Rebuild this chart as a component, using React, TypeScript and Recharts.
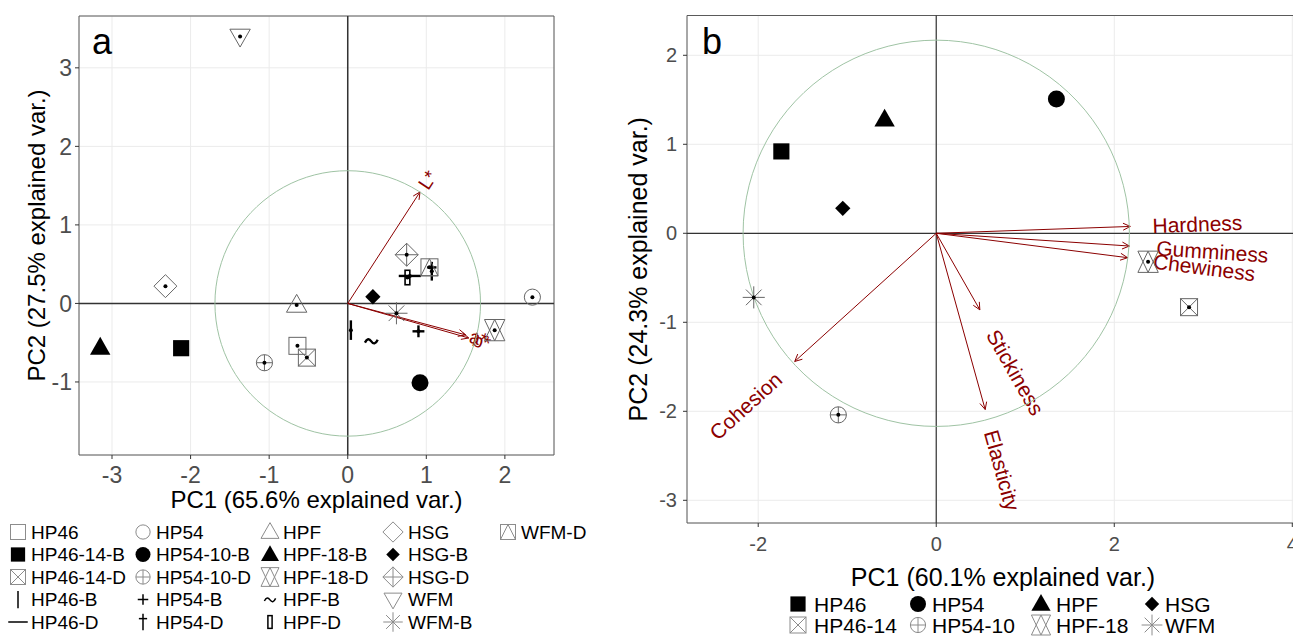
import React from 'react';
import { ScatterChart, Scatter, XAxis, YAxis, CartesianGrid, ReferenceLine, ReferenceArea } from 'recharts';

const FONT = '"Liberation Sans", Arial, Helvetica, sans-serif';
const DARKRED = '#8B0000';
const CIRCLE = '#9fc3a4';

// ---------- panel a : colour (L*, a*, b*) ----------
const samplesA = [
  'HP46', 'HP46-14-B', 'HP46-14-D', 'HP46-B', 'HP46-D',
  'HP54', 'HP54-10-B', 'HP54-10-D', 'HP54-B', 'HP54-D',
  'HPF', 'HPF-18-B', 'HPF-18-D', 'HPF-B', 'HPF-D',
  'HSG', 'HSG-B', 'HSG-D', 'WFM', 'WFM-B',
  'WFM-D',
];
const pc1A = [-0.64, -2.12, -0.52, 0.04, 0.79, 2.35, 0.92, -1.06, 0.9, 1.07, -0.65, -3.15, 1.87, 0.3, 0.76, -2.32, 0.32, 0.75, -1.37, 0.62, 1.04];
const pc2A = [-0.54, -0.57, -0.69, -0.34, 0.35, 0.08, -1.01, -0.755, -0.355, 0.41, -0.02, -0.56, -0.34, -0.48, 0.33, 0.22, 0.085, 0.62, 3.4, -0.125, 0.46];
const varsA = ['L*', 'a*', 'b*'];
const loadXA = [0.92, 1.5, 1.54];
const loadYA = [1.42, -0.4, -0.44];
const radiusA = 1.69;
const xTicksA = [-3, -2, -1, 0, 1, 2];
const yTicksA = [-1, 0, 1, 2, 3];
const xDomainA: [number, number] = [-3.42, 2.625];
const yDomainA: [number, number] = [-1.93, 3.66];

// ---------- panel b : texture ----------
const samplesB = ['HP46', 'HP46-14', 'HP54', 'HP54-10', 'HPF', 'HPF-18', 'HSG', 'WFM'];
const pc1B = [-1.74, 2.84, 1.35, -1.1, -0.58, 2.38, -1.05, -2.05];
const pc2B = [0.92, -0.83, 1.51, -2.04, 1.28, -0.32, 0.28, -0.72];
const varsB = ['Hardness', 'Gumminess', 'Chewiness', 'Stickiness', 'Elasticity', 'Cohesion'];
const loadXB = [2.18, 2.17, 2.15, 0.49, 0.55, -1.59];
const loadYB = [0.077, -0.143, -0.274, -0.86, -1.98, -1.44];
const radiusB = 2.17;
const xTicksB = [-2, 0, 2, 4];
const yTicksB = [-3, -2, -1, 0, 1, 2];
const xDomainB: [number, number] = [-2.8, 4.3];
const yDomainB: [number, number] = [-3.255, 2.447];

type Kind =
  | 'sqOpen' | 'sqFill' | 'sqX' | 'sqTri' | 'vbar' | 'hbar'
  | 'circOpen' | 'circFill' | 'circPlus' | 'plus' | 'dagger'
  | 'triOpen' | 'triFill' | 'star6' | 'tilde' | 'rect'
  | 'diaOpen' | 'diaFill' | 'diaPlus' | 'triDown' | 'aster';

const SHAPE_A: Record<string, Kind> = {
  'HP46': 'sqOpen', 'HP46-14-B': 'sqFill', 'HP46-14-D': 'sqX', 'HP46-B': 'vbar', 'HP46-D': 'hbar',
  'HP54': 'circOpen', 'HP54-10-B': 'circFill', 'HP54-10-D': 'circPlus', 'HP54-B': 'plus', 'HP54-D': 'dagger',
  'HPF': 'triOpen', 'HPF-18-B': 'triFill', 'HPF-18-D': 'star6', 'HPF-B': 'tilde', 'HPF-D': 'rect',
  'HSG': 'diaOpen', 'HSG-B': 'diaFill', 'HSG-D': 'diaPlus', 'WFM': 'triDown', 'WFM-B': 'aster', 'WFM-D': 'sqTri',
};
const SHAPE_B: Record<string, Kind> = {
  'HP46': 'sqFill', 'HP46-14': 'sqX', 'HP54': 'circFill', 'HP54-10': 'circPlus',
  'HPF': 'triFill', 'HPF-18': 'star6', 'HSG': 'diaFill', 'WFM': 'aster',
};
const FILLED: Kind[] = ['sqFill', 'circFill', 'triFill', 'diaFill', 'tilde'];

// correlation circle, traced like ggbiplot does (100 steps round the origin)
const ring = (r: number) =>
  Array.from({ length: 101 }, (_, i) => ({
    x: r * Math.cos((2 * Math.PI * i) / 100),
    y: r * Math.sin((2 * Math.PI * i) / 100),
  }));

function Glyph({ kind, x, y, s, grey, bold, dot }: { kind: Kind; x: number; y: number; s: number; grey: string; bold: number; dot?: boolean }) {
  const thin = { fill: 'none', stroke: grey, strokeWidth: 1 };
  const ink = { fill: 'none', stroke: '#000', strokeWidth: bold };
  const solid = { fill: '#000', stroke: 'none' };
  const sq = (st: any, k = 'sq', f = 1) => <rect key={k} x={x - s * f} y={y - s * f} width={2 * s * f} height={2 * s * f} {...st} />;
  const tri = (dir: number, h: number, w: number, lo: number, st: any, k: string) => (
    <polygon key={k} points={`${x},${y - dir * h} ${x - w},${y + dir * lo} ${x + w},${y + dir * lo}`} {...st} />
  );
  const dia = (r: number, st: any) => <polygon key="dia" points={`${x},${y - r} ${x + r},${y} ${x},${y + r} ${x - r},${y}`} {...st} />;
  const seg = (x1: number, y1: number, x2: number, y2: number, st: any, k: string) => <line key={k} x1={x1} y1={y1} x2={x2} y2={y2} {...st} />;
  const el: React.ReactNode[] = [];
  switch (kind) {
    case 'sqOpen': el.push(sq(thin)); break;
    case 'sqFill': el.push(sq(solid, 'sq', 0.95)); break;
    case 'sqX': el.push(sq(thin), <path key="x" d={`M${x - s},${y - s}L${x + s},${y + s}M${x + s},${y - s}L${x - s},${y + s}`} {...thin} />); break;
    case 'sqTri': el.push(sq(thin), tri(1, s, s, s, thin, 't')); break;
    case 'circOpen': el.push(<circle key="c" cx={x} cy={y} r={s * 0.95} {...thin} />); break;
    case 'circFill': el.push(<circle key="c" cx={x} cy={y} r={s} {...solid} />); break;
    case 'circPlus': {
      const r = s * 0.95;
      el.push(<circle key="c" cx={x} cy={y} r={r} {...thin} />, seg(x - r, y, x + r, y, thin, 'h'), seg(x, y - r, x, y + r, thin, 'v'));
      break;
    }
    case 'triOpen': el.push(tri(1, 1.25 * s, 1.2 * s, 0.85 * s, thin, 't')); break;
    case 'triFill': el.push(tri(1, 1.25 * s, 1.2 * s, 0.85 * s, solid, 't')); break;
    case 'triDown': el.push(tri(-1, 1.25 * s, 1.2 * s, 0.85 * s, thin, 't')); break;
    case 'star6': el.push(tri(1, 1.25 * s, 1.2 * s, 1.25 * s, thin, 'u'), tri(-1, 1.25 * s, 1.2 * s, 1.25 * s, thin, 'd')); break;
    case 'diaOpen': el.push(dia(1.35 * s, thin)); break;
    case 'diaFill': el.push(dia(0.9 * s, solid)); break;
    case 'diaPlus': {
      const r = 1.35 * s;
      el.push(dia(r, thin), seg(x - r, y, x + r, y, thin, 'h'), seg(x, y - r, x, y + r, thin, 'v'));
      break;
    }
    case 'aster': {
      const r = 1.3 * s, d = r * 0.707;
      el.push(seg(x - r, y, x + r, y, thin, 'h'), seg(x, y - r, x, y + r, thin, 'v'), seg(x - d, y - d, x + d, y + d, thin, 'd1'), seg(x - d, y + d, x + d, y - d, thin, 'd2'));
      break;
    }
    case 'plus': el.push(seg(x - 0.7 * s, y, x + 0.7 * s, y, ink, 'h'), seg(x, y - 0.7 * s, x, y + 0.7 * s, ink, 'v')); break;
    case 'vbar': el.push(seg(x, y - 1.15 * s, x, y + 1.15 * s, ink, 'v')); break;
    case 'hbar': el.push(seg(x - 1.3 * s, y, x + 1.3 * s, y, ink, 'h')); break;
    case 'dagger': el.push(seg(x, y - 1.1 * s, x, y + 1.1 * s, ink, 'v'), seg(x - 0.55 * s, y - 0.45 * s, x + 0.55 * s, y - 0.45 * s, ink, 'h')); break;
    case 'tilde':
      el.push(<path key="t" d={`M${x - 0.75 * s},${y + 1.5} c${0.25 * s},${-0.5 * s} ${0.5 * s},${-0.5 * s} ${0.75 * s},${-0.15 * s} s${0.5 * s},${0.35 * s} ${0.75 * s},${-0.2 * s}`} {...ink} />);
      break;
    case 'rect': el.push(<rect key="r" x={x - 0.28 * s} y={y - 0.85 * s} width={0.56 * s} height={1.7 * s} fill="none" stroke="#000" strokeWidth={Math.min(bold, 1.6)} />); break;
  }
  return (
    <g>
      {el}
      {dot && !FILLED.includes(kind) && <circle cx={x} cy={y} r={2} fill="#000" />}
    </g>
  );
}

// rough Arial advance widths, enough for ggbiplot's hjust = -0.25 gap
function textW(str: string, fs: number) {
  let w = 0;
  for (const ch of str) {
    if ('il'.includes(ch)) w += 0.222;
    else if ('tfr'.includes(ch)) w += 0.3;
    else if (ch === '*') w += 0.389;
    else if ('mw'.includes(ch)) w += 0.78;
    else if (ch >= 'A' && ch <= 'Z') w += 0.7;
    else w += 0.54;
  }
  return w * fs;
}

function VarArrow({ x1, y1, x2, y2, label, fs }: any) {
  const a = Math.atan2(y2 - y1, x2 - x1);
  const head = 8;
  const sp = Math.PI / 7;
  const h1 = `${x2 - head * Math.cos(a - sp)},${y2 - head * Math.sin(a - sp)}`;
  const h2 = `${x2 - head * Math.cos(a + sp)},${y2 - head * Math.sin(a + sp)}`;
  const rot = (Math.atan((y2 - y1) / (x2 - x1)) * 180) / Math.PI;
  const out = x2 >= x1;
  const gap = 0.25 * textW(label, fs);
  return (
    <g>
      <line x1={x1} y1={y1} x2={x2} y2={y2} stroke={DARKRED} strokeWidth={1} />
      <polyline points={`${h1} ${x2},${y2} ${h2}`} fill="none" stroke={DARKRED} strokeWidth={1} />
      <text
        transform={`translate(${x2},${y2}) rotate(${rot})`}
        x={out ? gap : -gap}
        textAnchor={out ? 'start' : 'end'}
        dominantBaseline="central"
        fontSize={fs}
        fill={DARKRED}
      >
        {label}
      </text>
    </g>
  );
}

type PanelProps = {
  width: number; height: number; margin: { top: number; right: number; bottom: number; left: number };
  yAxisWidth: number; xAxisHeight: number;
  xDomain: [number, number]; yDomain: [number, number]; xTicks: number[]; yTicks: number[];
  tickFs: number; tickMarginX: number; tickMarginY: number; titleFs: number;
  xTitle: string; yTitle: string; xTitleDrop: number; yTitleX: number;
  points: { name: string; x: number; y: number }[]; shapeOf: Record<string, Kind>;
  radius: number; vars: string[]; loadX: number[]; loadY: number[]; varFs: number; zeroWidth: number;
};

function Panel(p: PanelProps) {
  const circle = ring(p.radius);
  const plotH = p.height - p.margin.top - p.margin.bottom - p.xAxisHeight;
  return (
    <ScatterChart width={p.width} height={p.height} margin={p.margin}>
      <CartesianGrid stroke="#ebebeb" strokeWidth={1} />
      <XAxis
        type="number" dataKey="x" domain={p.xDomain} ticks={p.xTicks} interval={0} allowDataOverflow
        axisLine={false} tickLine={{ stroke: '#333' }} tickSize={4} tickMargin={p.tickMarginX}
        height={p.xAxisHeight} tick={{ fill: '#4d4d4d', fontSize: p.tickFs }}
        label={(lp: any) => {
          const vb = lp.viewBox ?? { x: p.yAxisWidth, y: p.margin.top + plotH, width: p.width - p.yAxisWidth - p.margin.right, height: p.xAxisHeight };
          return (
            <text x={vb.x + vb.width / 2} y={vb.y + vb.height - p.xTitleDrop} textAnchor="middle" fontSize={p.titleFs} fill="#000">
              {p.xTitle}
            </text>
          );
        }}
      />
      <YAxis
        type="number" dataKey="y" domain={p.yDomain} ticks={p.yTicks} interval={0} allowDataOverflow
        axisLine={false} tickLine={{ stroke: '#333' }} tickSize={4} tickMargin={p.tickMarginY}
        width={p.yAxisWidth} tick={{ fill: '#4d4d4d', fontSize: p.tickFs }}
        label={(lp: any) => {
          const vb = lp.viewBox ?? { x: 0, y: p.margin.top, width: p.yAxisWidth, height: plotH };
          const cx = vb.x + p.yTitleX;
          const cy = vb.y + vb.height / 2;
          return (
            <text x={cx} y={cy} transform={`rotate(-90 ${cx} ${cy})`} textAnchor="middle" dominantBaseline="central" fontSize={p.titleFs} fill="#000">
              {p.yTitle}
            </text>
          );
        }}
      />
      <ReferenceArea x1={p.xDomain[0]} x2={p.xDomain[1]} y1={p.yDomain[0]} y2={p.yDomain[1]} fill="none" fillOpacity={0} stroke="#5a5a5a" strokeWidth={1} ifOverflow="visible" />
      <ReferenceLine x={0} stroke="#333" strokeWidth={p.zeroWidth} />
      <ReferenceLine y={0} stroke="#333" strokeWidth={p.zeroWidth} />
      <Scatter data={circle} line={{ stroke: CIRCLE, strokeWidth: 1 }} lineType="joint" shape={() => <g />} isAnimationActive={false} />
      {p.vars.map((v, i) => (
        <ReferenceLine
          key={v}
          segment={[{ x: 0, y: 0 }, { x: p.loadX[i], y: p.loadY[i] }]}
          ifOverflow="visible"
          shape={(lp: any) => <VarArrow {...lp} label={v} fs={p.varFs} />}
        />
      ))}
      <Scatter
        data={p.points}
        shape={(sp: any) => <Glyph kind={p.shapeOf[sp.payload.name]} x={sp.cx} y={sp.cy} s={8.5} grey="#666" bold={2.4} dot />}
        isAnimationActive={false}
      />
    </ScatterChart>
  );
}

// legend layout (pixels, page coordinates)
const LEG_A = { iconX: [18, 143, 270, 393, 508], textX: [31, 156, 283, 408, 521], rowY: [532, 554.5, 577, 599.5, 622], fs: 19, s: 7.5 };
const LEG_B = { iconX: [798, 918, 1041, 1152], textX: [814, 932, 1056, 1165], rowY: [604, 625], fs: 21, s: 8 };

function LegendBlock({ names, shapeOf, rows, lay }: { names: string[]; shapeOf: Record<string, Kind>; rows: number; lay: typeof LEG_A }) {
  return (
    <svg width={1293} height={637} style={{ position: 'absolute', left: 0, top: 0, pointerEvents: 'none' }}>
      {names.map((n, i) => {
        const c = Math.floor(i / rows);
        const r = i % rows;
        const y = lay.rowY[r];
        return (
          <g key={n}>
            <Glyph kind={shapeOf[n]} x={lay.iconX[c]} y={y} s={lay.s} grey="#8c8c8c" bold={1.5} />
            <text x={lay.textX[c]} y={y} dominantBaseline="central" fontSize={lay.fs} fill="#000" style={{ fontFamily: FONT }}>
              {n}
            </text>
          </g>
        );
      })}
    </svg>
  );
}

const pointsA = samplesA.map((name, i) => ({ name, x: pc1A[i], y: pc2A[i] }));
const pointsB = samplesB.map((name, i) => ({ name, x: pc1B[i], y: pc2B[i] }));

export default function App() {
  return (
    <div style={{ position: 'absolute', left: 0, top: 0, width: 1293, height: 637, overflow: 'hidden', background: '#fff', fontFamily: FONT }}>
      <div style={{ position: 'absolute', left: 0, top: 0 }}>
        <Panel
          width={600} height={520} margin={{ top: 16, right: 46, bottom: 0, left: 0 }}
          yAxisWidth={79} xAxisHeight={65}
          xDomain={xDomainA} yDomain={yDomainA} xTicks={xTicksA} yTicks={yTicksA}
          tickFs={23} tickMarginX={8} tickMarginY={3} titleFs={24}
          xTitle="PC1 (65.6% explained var.)" yTitle="PC2 (27.5% explained var.)" xTitleDrop={12} yTitleX={36}
          points={pointsA} shapeOf={SHAPE_A} radius={radiusA}
          vars={varsA} loadX={loadXA} loadY={loadYA} varFs={19} zeroWidth={1.5}
        />
      </div>
      <div style={{ position: 'absolute', left: 620, top: 0 }}>
        <Panel
          width={720} height={600} margin={{ top: 15.5, right: 21, bottom: 0, left: 0 }}
          yAxisWidth={67} xAxisHeight={77}
          xDomain={xDomainB} yDomain={yDomainB} xTicks={xTicksB} yTicks={yTicksB}
          tickFs={20} tickMarginX={10} tickMarginY={6} titleFs={25}
          xTitle="PC1 (60.1% explained var.)" yTitle="PC2 (24.3% explained var.)" xTitleDrop={14} yTitleX={18}
          points={pointsB} shapeOf={SHAPE_B} radius={radiusB}
          vars={varsB} loadX={loadXB} loadY={loadYB} varFs={21} zeroWidth={1.2}
        />
      </div>
      <div style={{ position: 'absolute', left: 92, top: 24, fontSize: 36, lineHeight: '36px', color: '#000' }}>a</div>
      <div style={{ position: 'absolute', left: 702, top: 24, fontSize: 36, lineHeight: '36px', color: '#000' }}>b</div>
      <LegendBlock names={samplesA} shapeOf={SHAPE_A} rows={5} lay={LEG_A} />
      <LegendBlock names={samplesB} shapeOf={SHAPE_B} rows={2} lay={LEG_B} />
    </div>
  );
}
